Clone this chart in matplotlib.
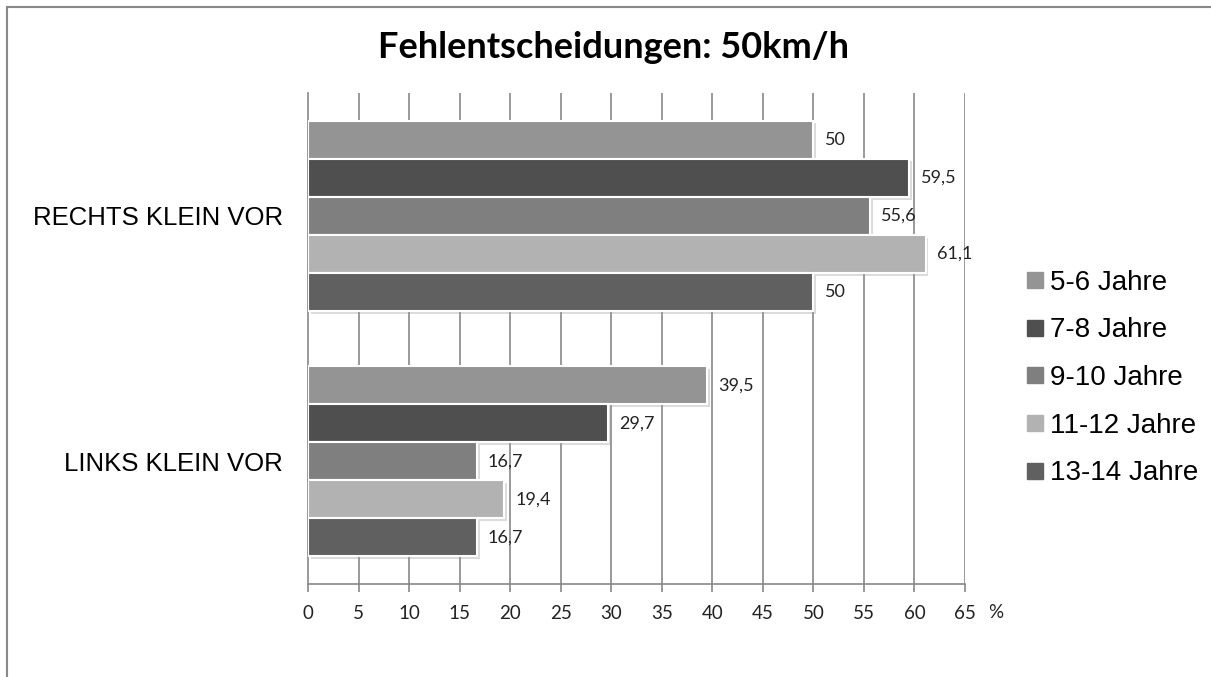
import matplotlib
matplotlib.use("Agg")
import matplotlib.pyplot as plt
import matplotlib.patheffects as pe
from matplotlib.lines import Line2D
import numpy as np

categories = ["RECHTS KLEIN VOR", "LINKS KLEIN VOR"]
series_names = ["5-6 Jahre", "7-8 Jahre", "9-10 Jahre", "11-12 Jahre", "13-14 Jahre"]
vals_5_6 = [50, 39.5]
vals_7_8 = [59.5, 29.7]
vals_9_10 = [55.6, 16.7]
vals_11_12 = [61.1, 19.4]
vals_13_14 = [50, 16.7]
series_values = [vals_5_6, vals_7_8, vals_9_10, vals_11_12, vals_13_14]
colors = ["#949494", "#4f4f4f", "#7f7f7f", "#b2b2b2", "#606060"]
xticks = list(range(0, 70, 5))
title = "Fehlentscheidungen: 50km/h"

fig = plt.figure(figsize=(12.11, 6.77), dpi=100)
ax = fig.add_axes([308/1211, 1-584/677, (965-308)/1211, (584-93)/677])

bar_h = 0.155
ypos = np.arange(len(categories))
shadow = [pe.SimplePatchShadow(offset=(2, -2), shadow_rgbFace="#999999", alpha=0.35), pe.Normal()]
for i, (name, vals, c) in enumerate(zip(series_names, series_values, colors)):
    y = ypos + (i - 2) * bar_h
    bars = ax.barh(y, vals, height=bar_h, color=c, edgecolor="white", linewidth=1.5,
                   label=name, zorder=3)
    for b in bars:
        b.set_path_effects(shadow)
    for yy, v in zip(y, vals):
        ax.text(v + 1.1, yy, f"{v:g}".replace(".", ","), va="center", ha="left",
                fontsize=13, family="Lato", color="#222222", zorder=4)

ax.set_xlim(0, 65)
ax.set_ylim(1.5, -0.5)
ax.set_xticks(xticks)
ax.set_xticklabels([str(t) for t in xticks], family="Lato", fontsize=13.5, color="#222222")
ax.set_yticks(ypos)
ax.set_yticklabels(categories, family="Liberation Sans", fontsize=18.5, color="black")
ax.tick_params(axis="y", length=0, pad=18)
ax.tick_params(axis="x", length=6, color="#888888", width=1.2, pad=9)
for x in xticks[1:]:
    ax.axvline(x, color="#888888", lw=1.2, zorder=1)
for s in ["top", "right"]:
    ax.spines[s].set_visible(False)
for s in ["left", "bottom"]:
    ax.spines[s].set_color("#888888")
    ax.spines[s].set_linewidth(1.2)
fig.text(988/1211, 1-613/677, "%", ha="left", va="center",
         fontsize=13.5, family="Lato", color="#222222")

fig.text(613/1211, 1-48/677, title, ha="center", va="center", fontsize=26,
         fontweight="bold", family="Lato")

handles = [Line2D([0], [0], marker="s", linestyle="none", markersize=11,
                  markerfacecolor=c, markeredgecolor=c) for c in colors]
fig.legend(handles, series_names, loc="center left", bbox_to_anchor=(996/1211, 1-378/677),
           frameon=False, prop={"family": "Liberation Sans", "size": 20},
           handletextpad=0.05, labelspacing=0.78, handlelength=1.0)

# outer border
fig.add_artist(Line2D([7/1211, 1], [1-7/677, 1-7/677], transform=fig.transFigure,
                      color="#888888", lw=1.5))
fig.add_artist(Line2D([7/1211, 7/1211], [1-7/677, 0], transform=fig.transFigure,
                      color="#888888", lw=1.5))

fig.savefig("out.png", dpi=100)
